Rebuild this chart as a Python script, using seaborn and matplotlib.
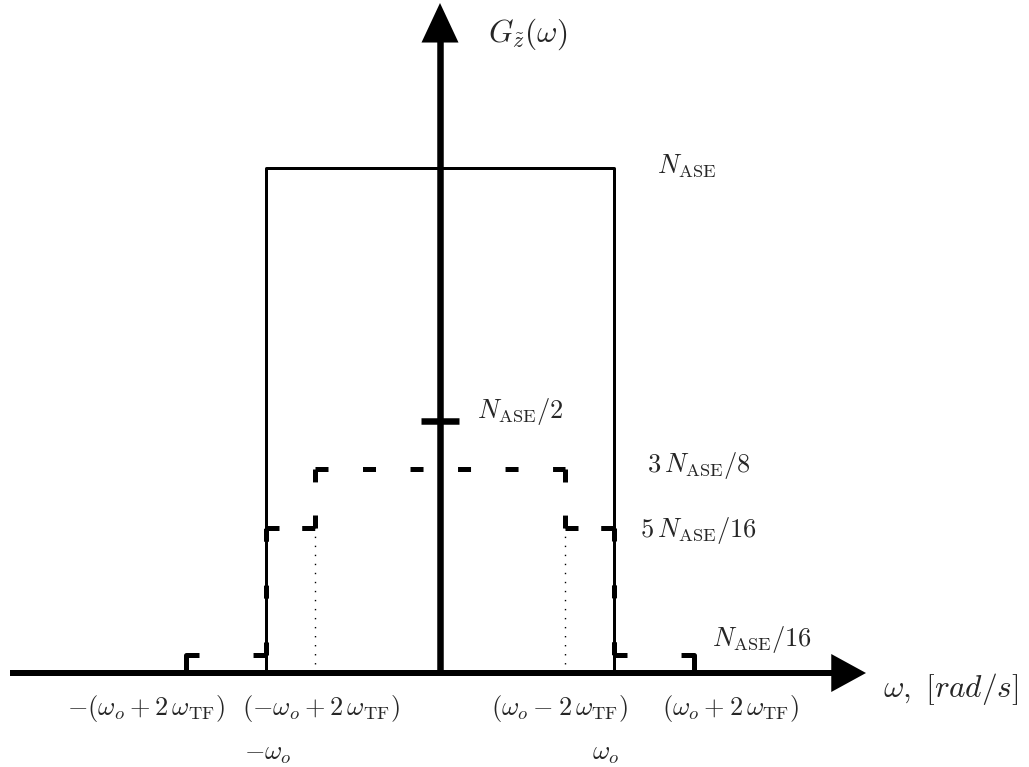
import numpy as np
import pandas as pd
import seaborn as sns
import matplotlib
matplotlib.use("Agg")
import matplotlib.pyplot as plt

# Frequency break points, in units of omega_o
omega_o = 1.0
inner_edge = 0.72      # omega_o - 2 omega_TF
outer_edge = 1.46      # omega_o + 2 omega_TF
step_edges = [-outer_edge, -omega_o, -inner_edge, inner_edge, omega_o, outer_edge]

# Spectral levels, in units of N_ASE (schematic heights)
n_ase = 1.0
half_level = 0.5
step_levels = [0.036, 0.287, 0.404, 0.287, 0.036]

tick_labels = [
    (r"$-(\omega_o + 2\,\omega_{\mathrm{TF}})$", -outer_edge),
    (r"$(-\omega_o + 2\,\omega_{\mathrm{TF}})$", -inner_edge),
    (r"$(\omega_o - 2\,\omega_{\mathrm{TF}})$", inner_edge),
    (r"$(\omega_o + 2\,\omega_{\mathrm{TF}})$", outer_edge),
]
level_labels = [
    r"$N_{\mathrm{ASE}}$",
    r"$N_{\mathrm{ASE}}/2$",
    r"$3\,N_{\mathrm{ASE}}/8$",
    r"$5\,N_{\mathrm{ASE}}/16$",
    r"$N_{\mathrm{ASE}}/16$",
]

sns.set_theme(style="white")
plt.rcParams["mathtext.fontset"] = "cm"
plt.rcParams["font.family"] = ["DejaVu Serif"]

W, H, DPI = 1029, 767, 100
fig = plt.figure(figsize=(W / DPI, H / DPI), dpi=DPI)
ax = fig.add_axes([0, 0, 1, 1])

# drawing scale: pixels per unit
X0, SX = 440.0, 174.0
Y0, SY = 673.0, 505.0
ax.set_xlim(-X0 / SX, (W - X0) / SX)
ax.set_ylim((Y0 - H) / SY, Y0 / SY)
ax.axis("off")


def px(xp, yp):
    return (xp - X0) / SX, (Y0 - yp) / SY


PT = 72.0 / DPI  # points per pixel

# rectangular ASE spectrum
rect = pd.DataFrame({"w": [-omega_o, -omega_o, omega_o, omega_o],
                     "g": [0.0, n_ase, n_ase, 0.0]})
sns.lineplot(data=rect, x="w", y="g", ax=ax, color="black", lw=3 * PT,
             estimator=None, sort=False, zorder=3)

# dashed filtered spectrum, built from edges and levels
path_x = [step_edges[0]]
path_y = [0.0]
for i, lev in enumerate(step_levels):
    path_x += [step_edges[i], step_edges[i + 1]]
    path_y += [lev, lev]
path_x.append(step_edges[-1])
path_y.append(0.0)

lw_d = 5 * PT
dash_px, gap_px = 13.0, 34.0
for (xa, ya, xb, yb) in zip(path_x[:-1], path_y[:-1], path_x[1:], path_y[1:]):
    seg_len = np.hypot((xb - xa) * SX, (yb - ya) * SY)
    k = int(round((seg_len + gap_px) / (dash_px + gap_px)))
    seg = pd.DataFrame({"w": [xa, xb], "g": [ya, yb]})
    if k <= 1:
        style = "-"
    else:
        gap = (seg_len - k * dash_px) / (k - 1)
        style = (0, (dash_px * PT / lw_d, gap * PT / lw_d))
    sns.lineplot(data=seg, x="w", y="g", ax=ax, color="black", lw=lw_d,
                 linestyle=style, estimator=None, sort=False, zorder=4)

# dotted guides at +/-(omega_o - 2 omega_TF)
for xe in (-inner_edge, inner_edge):
    guide = pd.DataFrame({"w": [xe, xe], "g": [0.0, step_levels[1]]})
    sns.lineplot(data=guide, x="w", y="g", ax=ax, color="black", lw=1.0,
                 linestyle=(0, (1, 5.5)), estimator=None, sort=False, zorder=2)

# axes with arrow heads
ax_lw = 6 * PT
xs0, _ = px(10, 0)
xs1, _ = px(833, 0)
xtip, _ = px(866, 0)
ax.plot([xs0, xs1], [0, 0], color="black", lw=ax_lw, solid_capstyle="butt", zorder=6)
hh = 19.0 / SY
ax.fill([xs1 - 0.01, xtip, xs1 - 0.01], [-hh, 0, hh], color="black", lw=0, zorder=6)

_, ys1 = px(0, 40)
_, ytip = px(0, 3)
ax.plot([0, 0], [0, ys1], color="black", lw=6.5 * PT, solid_capstyle="butt", zorder=6)
hw = 18.5 / SX
ax.fill([-hw, 0, hw], [ys1 - 0.005, ytip, ys1 - 0.005], color="black", lw=0, zorder=6)

# N_ASE/2 tick mark
tick_half = 19.0 / SX
ax.plot([-tick_half, tick_half], [half_level, half_level], color="black",
        lw=6.5 * PT, solid_capstyle="butt", zorder=6)

FS = 19
FS_AX = 22.5
ax.text(*px(488, 34), r"$G_{\tilde{z}}(\omega)$", fontsize=FS_AX, ha="left", va="center")
ax.text(*px(883, 697), r"$\omega,\ [rad/s]$", fontsize=FS_AX, ha="left", va="baseline")

ax.text(*px(657, 173), level_labels[0], fontsize=FS, ha="left", va="baseline")
ax.text(*px(477, 418), level_labels[1], fontsize=FS, ha="left", va="baseline")
ax.text(*px(647, 472), level_labels[2], fontsize=FS, ha="left", va="baseline")
ax.text(*px(640, 537), level_labels[3], fontsize=FS, ha="left", va="baseline")
ax.text(*px(712, 646), level_labels[4], fontsize=FS, ha="left", va="baseline")

label_centres = [146, 321, 560, 731]
for (txt, _), cx in zip(tick_labels, label_centres):
    ax.text(*px(cx, 715), txt, fontsize=FS, ha="center", va="baseline")

ax.text(*px(268, 760), r"$-\omega_o$", fontsize=FS, ha="center", va="baseline")
ax.text(*px(606, 760), r"$\omega_o$", fontsize=FS, ha="center", va="baseline")

fig.savefig("out.png", dpi=DPI, facecolor="white")
